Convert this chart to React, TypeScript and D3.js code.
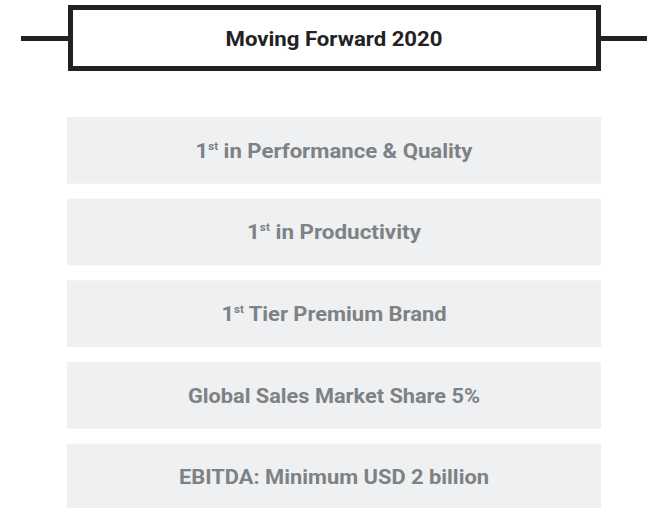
import React from "react";
import * as d3 from "d3";

const title = "Moving Forward 2020";
const titleWidth = 217;

const itemPrefix = ["1", "1", "1", "", ""];
const itemSup = ["st", "st", "st", "", ""];
const itemText = [
  " in Performance & Quality",
  " in Productivity",
  " Tier Premium Brand",
  "Global Sales Market Share 5%",
  "EBITDA: Minimum USD 2 billion",
];
const itemWidths = [277, 174, 225, 292, 310];

const W = 657;
const H = 508;

export default function App() {
  const ids = itemText.map((_, i) => String(i));
  const step = 81.67;
  const pad = 0.184;
  const y = d3
    .scaleBand<string>()
    .domain(ids)
    .range([117, 117 + step * (ids.length - pad)])
    .paddingInner(pad)
    .paddingOuter(0);
  const x = d3.scaleLinear().domain([0, 1]).range([67, 601]);
  const cx = (x(0) + x(1)) / 2;
  const font = "Roboto, 'Open Sans', sans-serif";
  const fs = 21;
  const capH = 0.711 * fs;
  const tfs = 20.5;

  return (
    <svg
      width={W}
      height={H}
      style={{ position: "absolute", left: 0, top: 0, background: "#fff" }}
      fontFamily={font}
    >
      {/* header */}
      <line x1={21} x2={68} y1={38.5} y2={38.5} stroke="#222" strokeWidth={5} />
      <line x1={601} x2={647} y1={38.5} y2={38.5} stroke="#222" strokeWidth={5} />
      <rect x={70.5} y={7.5} width={528} height={61} fill="#fff" stroke="#222" strokeWidth={5} />
      <text
        x={cx}
        y={38.3 + (0.711 * tfs) / 2}
        textAnchor="middle"
        fontSize={tfs}
        fontWeight={700}
        fill="#222"
        textLength={titleWidth}
        lengthAdjust="spacingAndGlyphs"
      >
        {title}
      </text>
      {ids.map((id, i) => {
        const y0 = y(id)!;
        const bh = y.bandwidth();
        const base = y0 + bh / 2 + capH / 2;
        return (
          <g key={id}>
            <rect x={x(0)} y={y0} width={x(1) - x(0)} height={bh} fill="#eff0f2" />
            <text
              x={cx}
              y={base}
              textAnchor="middle"
              fontSize={fs}
              fontWeight={700}
              fill="#7d8285"
              textLength={itemWidths[i]}
              lengthAdjust="spacingAndGlyphs"
            >
              {itemPrefix[i] && <tspan>{itemPrefix[i]}</tspan>}
              {itemSup[i] && (
                <tspan fontSize={11} dy={-8}>
                  {itemSup[i]}
                </tspan>
              )}
              <tspan dy={itemSup[i] ? 8 : 0}>{itemText[i]}</tspan>
            </text>
          </g>
        );
      })}
    </svg>
  );
}
